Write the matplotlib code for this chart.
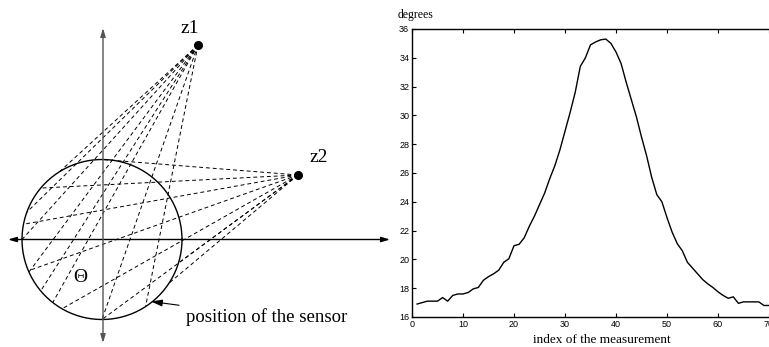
import numpy as np
import matplotlib
matplotlib.use('Agg')
import matplotlib.pyplot as plt

# measured angle for each index
index = np.arange(1, 71)
angle_deg = [16.9, 17.0, 17.1, 17.1, 17.1, 17.35, 17.1, 17.5, 17.6, 17.6,
             17.7, 17.95, 18.05, 18.55, 18.8, 19.0, 19.25, 19.8, 20.05, 20.95,
             21.05, 21.5, 22.3, 23.0, 23.8, 24.6, 25.6, 26.5, 27.6, 28.9,
             30.2, 31.6, 33.4, 34.0, 34.9, 35.1, 35.25, 35.3, 35.0, 34.4,
             33.6, 32.3, 31.1, 29.9, 28.5, 27.2, 25.7, 24.5, 24.0, 22.9,
             21.9, 21.1, 20.6, 19.8, 19.4, 19.0, 18.6, 18.3, 18.05, 17.75,
             17.5, 17.3, 17.4, 16.95, 17.05, 17.05, 17.05, 17.05, 16.8, 16.8]
xticks = [0, 10, 20, 30, 40, 50, 60, 70]
yticks = [16, 18, 20, 22, 24, 26, 28, 30, 32, 34, 36]

# sketch geometry (pixel units of the left panel)
center = (102, 239.5)
radius = 80
z1 = (198, 45)
z2 = (298, 175)
z1_sensors = [122, 160, 180, 204, 220, 232, 270, 303]   # degrees on circle
z2_sensors = [90, 140, 169, 203, 240, 270, 327, 343]

W, H = 769, 347
fig = plt.figure(figsize=(W / 100, H / 100), dpi=100)

serif = ['Liberation Serif', 'DejaVu Serif']
sans = ['Liberation Sans', 'DejaVu Sans']

# ---- left panel: the sketch ----
ax = fig.add_axes([0, 0, 1, 1])
ax.set_xlim(0, W)
ax.set_ylim(H, 0)
ax.axis('off')


def on_circle(deg):
    t = np.deg2rad(deg)
    return center[0] + radius * np.cos(t), center[1] - radius * np.sin(t)


dash = dict(color='black', lw=0.7, linestyle=(0, (4, 3)))
for src, sensors in [(z1, z1_sensors), (z2, z2_sensors)]:
    for a in sensors:
        px, py = on_circle(a)
        ax.plot([src[0], px], [src[1], py], **dash)

t = np.linspace(0, 2 * np.pi, 300)
ax.plot(center[0] + radius * np.cos(t), center[1] + radius * np.sin(t),
        color='black', lw=1.0)

# coordinate axes
arw = dict(arrowstyle='<|-|>,head_length=0.5,head_width=0.15', lw=1.0,
           shrinkA=0, shrinkB=0)
ax.annotate('', xy=(8, 239.5), xytext=(390, 239.5),
            arrowprops=dict(color='black', **arw))
ax.annotate('', xy=(103, 28), xytext=(103, 343),
            arrowprops=dict(color='#555555', **arw))

ax.plot([z1[0], z2[0]], [z1[1], z2[1]], 'o', color='black', ms=5.5,
        linestyle='none')
ax.text(190, 28, 'z1', fontsize=14, family=serif, ha='center', va='center')
ax.text(319, 157, 'z2', fontsize=14, family=serif, ha='center', va='center')
ax.text(80, 278, '\u0398', fontsize=14, family=serif, ha='center',
        va='center')
ax.annotate('position of the sensor', xy=(151, 301.5), xytext=(186, 317),
            fontsize=13.5, family=serif, va='center',
            arrowprops=dict(arrowstyle='-|>,head_length=0.5,head_width=0.15',
                            color='black', lw=0.8, shrinkA=3, shrinkB=0))

# ---- right panel: the measurement ----
l, r, top, bot = 412, 769, 29, 317
ax2 = fig.add_axes([l / W, (H - bot) / H, (r - l) / W, (bot - top) / H])
ax2.plot(index, angle_deg, color='black', lw=1.0)
ax2.set_xlim(0, 70)
ax2.set_ylim(16, 36)
ax2.set_xticks(xticks)
ax2.set_yticks(yticks)
ax2.tick_params(direction='in', length=3, width=0.8, labelsize=6.5,
                top=True, right=False, pad=2)
for lab in ax2.get_xticklabels() + ax2.get_yticklabels():
    lab.set_family(sans)
for s in ax2.spines.values():
    s.set_linewidth(1.0)
ax2.spines['right'].set_visible(False)

fig.text(398 / W, 1 - 15 / H, 'degrees', fontsize=8.5, family=serif,
         va='center', ha='left')
fig.text(602 / W, 1 - 340 / H, 'index of the measurement', fontsize=9.5,
         family=serif, va='center', ha='center')

fig.savefig('out.png', dpi=100)
